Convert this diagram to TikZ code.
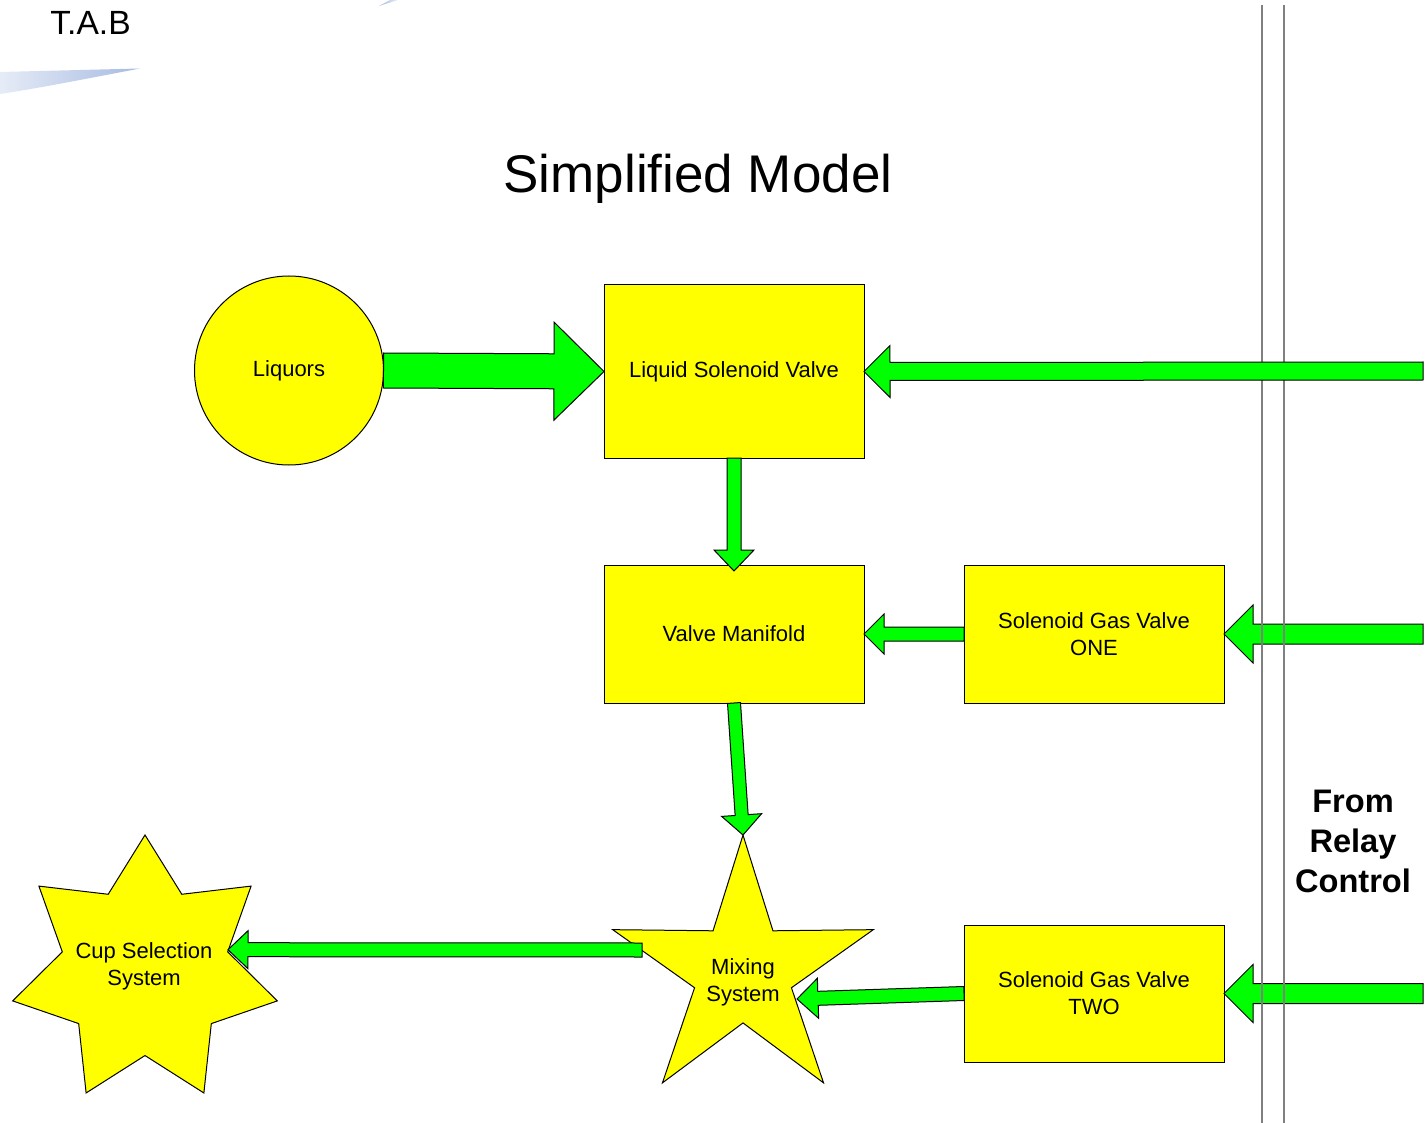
\documentclass[tikz,border=0pt]{standalone}
\usepackage{fontspec}
\setmainfont{Liberation Sans}
\usetikzlibrary{shapes.geometric,calc}
\definecolor{yel}{HTML}{FFFF00}
\definecolor{grn}{HTML}{00FF00}
\definecolor{rulegray}{HTML}{808080}
\definecolor{swA}{HTML}{E6ECF7}
\definecolor{swB}{HTML}{A6BAE1}
% #1 tail, #2 tip, #3 shaft half-width, #4 head half-width, #5 head length
\newcommand{\blockarrow}[5]{%
  \coordinate (ba-h) at ($(#2)!#5!(#1)$);
  \draw[blockarrowstyle] ($(#1)!#3!90:(#2)$) -- ($(ba-h)!#3!-90:(#1)$) -- ($(ba-h)!#4!-90:(#1)$) -- (#2)
     -- ($(ba-h)!#4!90:(#1)$) -- ($(ba-h)!#3!90:(#1)$) -- ($(#1)!#3!-90:(#2)$) -- cycle;}
\tikzset{
  blockarrowstyle/.style={fill=grn, draw=black, line width=0.5pt, line join=miter},
  box/.style={draw=black, fill=yel, line width=0.5pt, minimum width=130pt, inner sep=0pt, outer sep=0pt,
    align=center, font=\fontsize{11}{13.5}\selectfont},
  lbl/.style={align=center, inner sep=0pt, font=\fontsize{11}{13.5}\selectfont},
  vrule/.style={draw=rulegray, line width=0.8pt}
}
\begin{document}
\begin{tikzpicture}[x=0.5pt,y=-0.5pt]
\useasboundingbox (0,0) rectangle (1425,1123);
\fill[white] (0,0) rectangle (1425,1123);
% decorative swoosh
\shade[left color=swA, right color=swB] (0,72) -- (140,68.5) .. controls (90,78) and (40,88) .. (0,94) -- cycle;
\shade[left color=swB, right color=swA] (379,6) -- (398,0) -- (390,0) -- cycle;
\node[anchor=base west, inner sep=0pt, font=\fontsize{16.8}{20}\selectfont] (tab) at (50,35) {T.A.B};
% title
\node[anchor=base, inner sep=0pt, font=\fontsize{26.5}{30}\selectfont] (title) at (698,193) {Simplified Model};
% nodes
\node[circle, draw=black, fill=yel, line width=0.5pt, minimum size=94.5pt, inner sep=0pt, outer sep=0pt,
  font=\fontsize{11}{13.5}\selectfont] (liq) at (289,370.5) {Liquors};
\node[box, minimum height=86.5pt] (lsv) at (734,371.5) {Liquid Solenoid Valve};
\node[box, minimum height=69pt] (vm) at (734,634) {Valve Manifold};
\node[box, minimum height=69pt] (sg1) at (1094,634) {Solenoid Gas Valve\\ONE};
\node[box, minimum height=68.5pt] (sg2) at (1094,993.5) {Solenoid Gas Valve\\TWO};
\node[star, star points=5, star point ratio=2.69, minimum size=137pt, inner sep=0pt, outer sep=0pt,
  draw=black, fill=yel, line width=0.5pt] (mix) at (743,972) {};
\node[lbl] (mixl) at (743,982) {Mixing\\System};
\node[star, star points=7, star point ratio=1.6, minimum size=135.7pt, inner sep=0pt, outer sep=0pt,
  draw=black, fill=yel, line width=0.5pt] (cup) at (145,970.7) {};
\node[lbl] (cupl) at (144,966) {Cup Selection\\System};
\node[align=center, inner sep=0pt, font=\bfseries\fontsize{16.3}{20}\selectfont] (relay) at (1353,841) {From\\Relay\\Control};
% free ends
\coordinate (r1) at (1423,371);
\coordinate (r2) at (1423,634);
\coordinate (r3) at (1423,993.5);
\coordinate (t3) at ([yshift=-3pt]vm.north);
\coordinate (t8) at ([shift={(54,27)}]mix.center);
\coordinate (t9a) at ([shift={(-101,-22)}]mix.center);
\coordinate (t9b) at ([shift={(83,-21)}]cup.center);
% arrows under the relay lines
\blockarrow{r2}{sg1.east}{5pt}{14.5pt}{14.5pt}
\blockarrow{r3}{sg2.east}{5pt}{14.5pt}{14.5pt}
% relay lines
\coordinate (la) at (1262,5); \coordinate (lb) at (1262,1123);
\coordinate (lc) at (1284,5); \coordinate (ld) at (1284,1123);
\draw[vrule] (la) -- (lb);
\draw[vrule] (lc) -- (ld);
% arrows over
\blockarrow{r1}{lsv.east}{4.5pt}{13pt}{13pt}
\blockarrow{liq.east}{lsv.west}{8.75pt}{24.5pt}{25pt}
\blockarrow{lsv.south}{t3}{3.5pt}{10pt}{10.5pt}
\blockarrow{sg1.west}{vm.east}{3.5pt}{10pt}{10pt}
\blockarrow{vm.south}{mix.north}{3.25pt}{10pt}{10pt}
\blockarrow{sg2.west}{t8}{3.5pt}{10pt}{10.5pt}
\blockarrow{t9a}{t9b}{3.5pt}{9.5pt}{10pt}
\end{tikzpicture}
\end{document}
